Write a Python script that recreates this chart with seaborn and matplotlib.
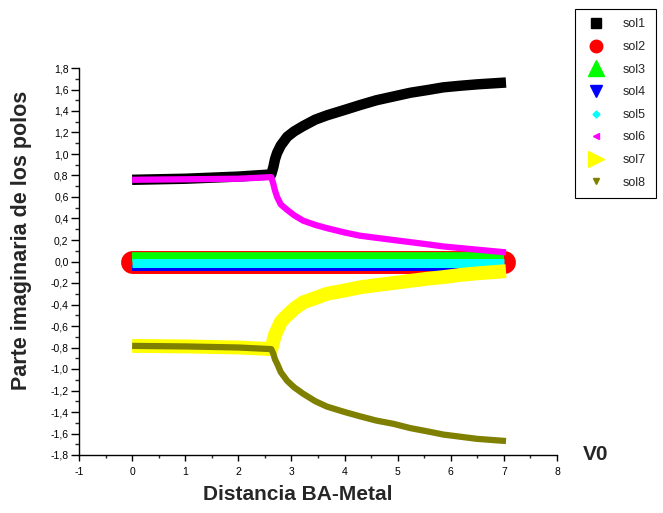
import matplotlib
matplotlib.use("Agg")
import numpy as np
import pandas as pd
import seaborn as sns
import matplotlib.pyplot as plt
from matplotlib.lines import Line2D
from matplotlib.ticker import MultipleLocator, FuncFormatter
from matplotlib.transforms import offset_copy

# ---- data ----
x_branch = [0.0, 1.0, 2.0, 2.62, 2.66, 2.69, 2.73, 2.80, 2.92, 3.05, 3.22, 3.45, 3.67, 4.0,
            4.29, 4.6, 4.92, 5.24, 5.56, 5.86, 6.18, 6.5, 7.04]
sol1 = [0.76, 0.77, 0.79, 0.81, 0.88, 0.95, 1.01, 1.08, 1.16, 1.21, 1.26, 1.32, 1.36, 1.41,
        1.455, 1.50, 1.535, 1.57, 1.595, 1.62, 1.635, 1.648, 1.665]
sol6 = [0.76, 0.765, 0.77, 0.785, 0.72, 0.66, 0.60, 0.53, 0.48, 0.43, 0.38, 0.34, 0.31, 0.27,
        0.24, 0.22, 0.20, 0.18, 0.16, 0.14, 0.125, 0.11, 0.085]
sol7 = [-0.785, -0.79, -0.80, -0.815, -0.74, -0.68, -0.64, -0.56, -0.50, -0.44, -0.38, -0.34, -0.30, -0.27,
        -0.24, -0.22, -0.20, -0.18, -0.16, -0.145, -0.125, -0.11, -0.09]
sol8 = [-0.785, -0.79, -0.80, -0.815, -0.86, -0.91, -0.95, -1.03, -1.11, -1.17, -1.23, -1.30, -1.35, -1.40,
        -1.44, -1.48, -1.51, -1.55, -1.58, -1.61, -1.63, -1.65, -1.67]

x_zero = [0.0, 7.0]
sol2 = [0.0, 0.0]
sol3 = [0.0, 0.0]
sol4 = [0.0, 0.0]
sol5 = [0.0, 0.0]

labels = ["sol1", "sol2", "sol3", "sol4", "sol5", "sol6", "sol7", "sol8"]
colors = ["#000000", "#ff0000", "#00ff00", "#0000ff", "#00ffff", "#ff00ff", "#ffff00", "#808000"]
x_ticks = [-1, 0, 1, 2, 3, 4, 5, 6, 7, 8]

sns.set_style("ticks")
plt.rcParams["font.family"] = ["Liberation Sans", "DejaVu Sans"]

fig = plt.figure(figsize=(6.63, 5.13), dpi=100)
ax = fig.add_axes([79 / 663, 1 - 455 / 513, (557 - 79) / 663, (455 - 68) / 513])

def draw(x, y, color, lw, cap="butt", dy=0.0):
    df = pd.DataFrame({"x": x, "y": y})
    tr = offset_copy(ax.transData, fig=fig, x=0, y=dy, units="points")
    sns.lineplot(data=df, x="x", y="y", ax=ax, color=color, linewidth=lw,
                 sort=False, estimator=None, solid_capstyle=cap, solid_joinstyle="round",
                 transform=tr)

draw(x_branch, sol1, colors[0], 7.5)
draw(x_zero, sol2, colors[1], 16.5, cap="round", dy=-0.3)
draw(x_zero, sol3, colors[2], 7.0, dy=3.6)
draw(x_zero, sol4, colors[3], 4.3, dy=-4.8)
draw(x_zero, sol5, colors[4], 6.5, dy=-0.9)
draw(x_branch, sol6, colors[5], 4.5)
draw(x_branch, sol7, colors[6], 10.0)
draw(x_branch, sol8, colors[7], 4.5)

ax.set_xlim(-1, 8)
ax.set_ylim(-1.8, 1.8)
ax.set_xticks(x_ticks)
ax.xaxis.set_minor_locator(MultipleLocator(0.5))
ax.yaxis.set_major_locator(MultipleLocator(0.2))
ax.yaxis.set_minor_locator(MultipleLocator(0.1))
ax.yaxis.set_major_formatter(FuncFormatter(lambda v, p: f"{v:.1f}".replace(".", ",").replace("-0,0", "0,0")))
ax.xaxis.set_major_formatter(FuncFormatter(lambda v, p: f"{v:.0f}"))

for s in ["top", "right"]:
    ax.spines[s].set_visible(False)
for s in ["left", "bottom"]:
    ax.spines[s].set_linewidth(1.0)
    ax.spines[s].set_color("black")

ax.tick_params(axis="y", which="major", direction="out", length=5.5, width=1.0, pad=2, labelsize=7.5, colors="black")
ax.tick_params(axis="y", which="minor", direction="out", length=3, width=1.0)
ax.tick_params(axis="x", which="major", direction="out", length=4.5, width=1.0, pad=4, labelsize=7.5, colors="black")
ax.tick_params(axis="x", which="minor", direction="out", length=2.5, width=1.0)

ax.set_xlabel("Distancia BA-Metal", fontsize=15, fontweight="bold", va="center")
ax.xaxis.set_label_coords((298 - 79) / 478, -(495 - 455) / 387)
ax.set_ylabel("Parte imaginaria de los polos", fontsize=15.5, fontweight="bold", va="center", ha="center")
ax.yaxis.set_label_coords((22 - 79) / 478, (455 - 240) / 387)

fig.text(596 / 663, 1 - 455 / 513, "V0", ha="center", va="center", fontsize=15, fontweight="bold")

handles = [
    Line2D([], [], ls="none", marker="s", ms=7, color=colors[0]),
    Line2D([], [], ls="none", marker="o", ms=9, color=colors[1]),
    Line2D([], [], ls="none", marker="^", ms=11, color=colors[2]),
    Line2D([], [], ls="none", marker="v", ms=9, color=colors[3]),
    Line2D([], [], ls="none", marker="D", ms=3.5, color=colors[4]),
    Line2D([], [], ls="none", marker="<", ms=4.5, color=colors[5]),
    Line2D([], [], ls="none", marker=">", ms=11, color=colors[6]),
    Line2D([], [], ls="none", marker="v", ms=4.5, color=colors[7]),
]
leg = fig.legend(handles, labels, loc="upper left", bbox_to_anchor=(575 / 663, 1 - 9 / 513),
                 bbox_transform=fig.transFigure, frameon=True, fancybox=False, framealpha=1,
                 edgecolor="black", fontsize=9, labelspacing=0.85, borderpad=0.75,
                 handlelength=1.8, handletextpad=1.3, borderaxespad=0)
leg.get_frame().set_linewidth(0.8)

fig.savefig("out.png", dpi=100)
